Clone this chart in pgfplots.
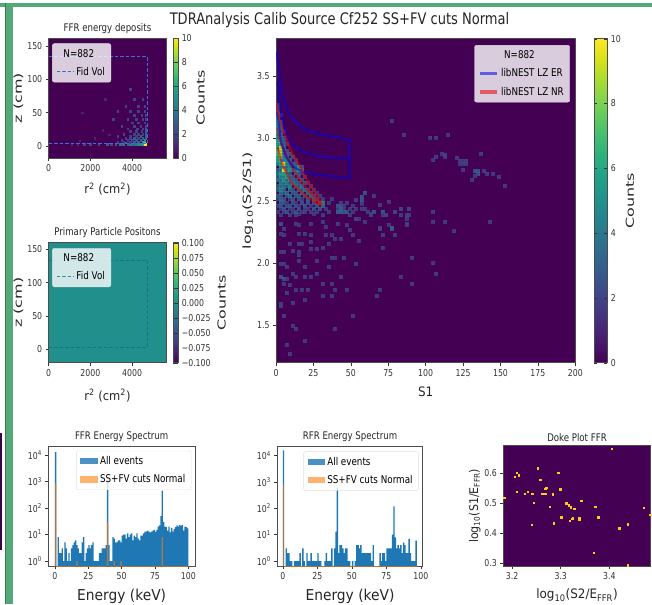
\documentclass[border=0pt]{standalone}
\usepackage{pgfplots}
\usepackage{pgfplotstable}
\usepackage{fontspec}
\pgfplotsset{compat=1.18}
\setmainfont{DejaVu Sans}[FakeStretch=0.82]
\newfontfamily\wideF{DejaVu Sans}[FakeStretch=0.92]
\newfontfamily\rotF{DejaVu Sans}[FakeStretch=1.45]
\newcommand\tickf{\fontsize{9.5}{11}\selectfont}
\newcommand\titf{\fontsize{10.5}{12}\selectfont}
\newcommand\labf{\wideF\fontsize{12}{14}\selectfont}
\newcommand\rotf{\rotF\fontsize{11}{13}\selectfont}
\newcommand\legf{\fontsize{10.7}{12.5}\selectfont}
\definecolor{vir0}{HTML}{440154}
\definecolor{vir5}{HTML}{21908C}
\definecolor{grn}{RGB}{84,168,122}
\definecolor{hblue}{HTML}{1F77B4}
\definecolor{horange}{HTML}{FF7F0E}

\pgfplotstableread{
x y c
77 3.139 2
85 3.032 2
103 3.005 2
107 3.005 2
115 3.032 2
137 2.877 2
107 2.853 2
105 2.826 2
111 2.880 2
113 2.871 2
113 2.853 2
121 2.847 2
123 2.821 2
125 2.821 2
127 2.821 2
123 2.799 2
125 2.799 2
127 2.799 2
125 2.751 2
133 2.738 3
135 2.738 3
135 2.716 3
139 2.738 2
141 2.719 2
133 2.703 2
131 2.671 2
145 2.719 2
149 2.692 2
153 2.620 2
59 2.567 3
57 2.532 3
57 2.505 3
53 2.505 2
57 2.478 2
65 2.537 2
75 2.491 2
57 2.438 2
59 2.438 2
61 2.411 2
65 2.411 3
63 2.385 2
71 2.411 3
71 2.385 2
73 2.385 2
79 2.411 2
83 2.433 2
83 2.385 2
89 2.433 2
89 2.385 2
87 2.358 2
87 2.310 2
105 2.411 2
105 2.331 2
113 2.331 2
143 2.331 2
59 2.331 2
53 2.358 2
55 2.358 2
69 2.465 2
69 2.286 2
75 2.310 2
77 2.286 3
119 2.256 2
105 2.000 2
107 1.917 2
91 2.045 2
83 1.890 2
91 1.836 2
3 2.385 2
9 2.385 2
13 2.385 2
15 2.398 2
19 2.425 2
25 2.398 2
31 2.385 2
41 2.425 2
43 2.425 2
45 2.438 2
49 2.385 2
53 2.358 2
63 2.398 2
73 2.385 2
79 2.411 2
83 2.438 2
87 2.385 2
89 2.438 2
87 2.318 2
3 2.312 3
5 2.278 2
13 2.318 2
15 2.304 2
23 2.318 2
31 2.331 2
33 2.291 2
41 2.318 2
47 2.304 2
49 2.264 2
69 2.278 2
77 2.278 3
71 2.224 2
79 2.229 2
3 2.238 2
5 2.224 2
15 2.238 2
19 2.238 2
23 2.224 2
33 2.224 2
37 2.224 2
39 2.197 2
43 2.197 2
51 2.224 2
55 2.179 2
9 2.157 2
15 2.157 2
17 2.157 2
23 2.171 2
35 2.157 2
3 2.090 2
5 2.090 2
11 2.098 2
15 2.090 2
15 2.064 2
23 2.117 2
27 2.117 2
31 2.125 2
37 2.045 2
39 2.045 2
45 2.045 2
71 2.125 2
3 1.997 2
5 1.997 2
7 1.970 2
15 2.018 2
19 1.970 2
27 2.018 2
35 1.970 2
53 1.997 2
3 1.890 3
5 1.876 3
7 1.876 2
11 1.917 2
13 1.890 2
19 1.890 2
23 1.890 2
27 1.917 2
31 1.836 2
37 1.836 2
43 1.890 2
9 1.823 2
5 1.836 2
13 1.783 2
17 1.788 2
21 1.788 2
39 1.788 2
47 1.788 2
69 1.788 2
7 1.761 2
31 1.735 2
37 1.735 2
67 1.735 2
3 1.676 2
3 1.654 2
11 1.681 2
19 1.708 2
5 1.577 2
51 1.577 2
11 1.497 2
13 1.475 2
39 1.475 2
7 1.347 2
19 1.373 2
9 1.269 2
1 2.409 2
5 2.409 2
7 2.409 3
11 2.409 2
13 2.409 3
17 2.409 2
19 2.409 2
23 2.409 2
27 2.409 2
35 2.409 2
41 2.409 3
43 2.409 3
45 2.409 3
47 2.409 3
51 2.409 2
3 2.435 2
5 2.435 3
9 2.435 2
11 2.435 2
15 2.435 3
21 2.435 2
25 2.435 3
29 2.435 3
33 2.435 2
43 2.435 3
49 2.435 2
53 2.435 2
1 2.461 2
3 2.461 3
7 2.461 3
9 2.461 3
13 2.461 3
15 2.461 2
19 2.461 3
23 2.461 2
27 2.461 3
31 2.461 4
41 2.461 3
43 2.461 3
45 2.461 2
51 2.461 2
3 2.487 3
5 2.487 3
7 2.487 2
11 2.487 3
13 2.487 2
17 2.487 3
21 2.487 3
25 2.487 3
29 2.487 4
31 2.487 5
35 2.487 2
43 2.487 2
47 2.487 2
1 2.513 2
3 2.513 4
5 2.513 3
9 2.513 2
11 2.513 3
15 2.513 3
17 2.513 2
21 2.513 3
25 2.513 4
27 2.513 3
31 2.513 2
37 2.513 2
1 2.539 3
3 2.539 3
7 2.539 3
9 2.539 4
13 2.539 3
15 2.539 3
19 2.539 3
23 2.539 4
25 2.539 3
29 2.539 2
3 2.565 4
5 2.565 3
7 2.565 4
11 2.565 3
13 2.565 3
17 2.565 4
21 2.565 4
23 2.565 3
27 2.565 2
1 2.591 3
3 2.591 5
5 2.591 4
9 2.591 4
11 2.591 3
15 2.591 4
17 2.591 3
19 2.591 4
21 2.591 3
25 2.591 2
1 2.617 3
3 2.617 4
5 2.617 4
7 2.617 3
9 2.617 5
13 2.617 4
15 2.617 3
17 2.617 4
23 2.617 2
3 2.643 5
5 2.643 4
7 2.643 5
9 2.643 3
11 2.643 5
13 2.643 4
15 2.643 3
19 2.643 3
21 2.643 2
1 2.669 4
3 2.669 4
5 2.669 6
7 2.669 4
9 2.669 5
11 2.669 4
13 2.669 3
17 2.669 3
1 2.695 3
3 2.695 5
5 2.695 5
7 2.695 6
9 2.695 4
11 2.695 3
15 2.695 3
19 2.695 2
1 2.721 4
3 2.721 6
5 2.721 6
7 2.721 5
9 2.721 3
13 2.721 4
15 2.721 3
17 2.721 2
1 2.747 3
3 2.747 4
5 2.747 10
7 2.747 5
9 2.747 6
11 2.747 4
13 2.747 5
15 2.747 6
17 2.747 5
3 2.773 5
5 2.773 6
7 2.773 4
9 2.773 5
13 2.773 4
15 2.773 6
17 2.773 3
1 2.799 5
3 2.799 6
5 2.799 10
7 2.799 5
9 2.799 4
11 2.799 3
13 2.799 3
1 2.825 6
3 2.825 6
5 2.825 5
7 2.825 5
9 2.825 4
13 2.825 2
1 2.851 6
3 2.851 8
5 2.851 5
7 2.851 4
11 2.851 3
1 2.877 7
3 2.877 9
5 2.877 4
7 2.877 4
9 2.877 3
1 2.903 7
3 2.903 9
5 2.903 4
7 2.903 3
1 2.929 6
3 2.929 9
5 2.929 4
1 2.955 6
3 2.955 6
5 2.955 4
7 2.955 2
1 2.981 6
3 2.981 7
5 2.981 3
1 3.007 5
3 3.007 5
5 3.007 3
1 3.033 5
3 3.033 4
1 3.059 6
3 3.059 3
5 3.059 2
1 3.085 5
3 3.085 4
1 3.111 5
3 3.111 3
1 3.137 5
3 3.137 3
1 3.163 4
1 3.189 3
3 3.189 2
1 3.215 3
1 3.241 2
1 3.267 2
}\mainhist

\pgfplotstableread{
x y c
2000 3 2
2400 3 2
2800 3 3
3000 3 2
3200 3 3
3400 3 4
3500 3 3
3600 3 4
3700 5 4
3800 3 3
3900 3 4
4000 3 4
4100 3 3
4200 3 4
4300 3 5
4400 3 5
4500 3 6
4600 3 10
4650 3 10
3300 6 2
3600 6 2
3900 6 2
4100 6 3
4300 6 3
4500 6 6
4600 6 8
3500 9 2
3800 9 2
4000 9 2
4200 9 3
4400 9 3
4600 9 5
3700 12 2
3900 12 2
4100 12 3
4300 12 2
4500 12 3
4650 12 4
3300 15 2
3900 15 2
4200 15 2
4400 15 3
4650 15 3
3600 18 2
4100 18 2
4300 18 2
4500 18 2
4650 18 3
3900 22 2
4200 22 2
4450 22 2
4650 22 3
3800 26 2
4250 26 2
4500 26 2
4650 26 3
3500 30 2
4100 30 2
4400 30 2
4650 30 2
4000 35 2
4300 35 2
4600 35 2
3800 40 2
4200 40 2
4500 40 2
4650 40 2
4100 46 2
4450 46 2
4650 46 2
3300 52 2
3900 52 2
4300 52 2
4600 52 2
3700 60 2
4300 60 2
4600 60 2
4100 70 2
4500 70 2
3900 85 2
2700 70 1
1600 50 1
3100 40 2
2600 24 1
1500 8 1
2200 12 1
1100 3 1
1400 3 1
1700 3 2
2900 17 1
}\ffrhist

\pgfplotstableread{
x y
3.405 0.681
3.253 0.617
3.295 0.603
3.210 0.602
3.214 0.594
3.206 0.588
3.258 0.578
3.270 0.552
3.268 0.548
3.299 0.547
3.210 0.539
3.232 0.538
3.226 0.531
3.240 0.531
3.242 0.531
3.262 0.531
3.268 0.533
3.284 0.530
3.184 0.519
3.342 0.508
3.244 0.502
3.311 0.500
3.316 0.494
3.321 0.487
3.328 0.483
3.277 0.489
3.371 0.489
3.471 0.486
3.301 0.454
3.377 0.454
3.286 0.434
3.323 0.448
3.319 0.443
3.325 0.450
3.338 0.450
3.338 0.446
3.240 0.428
3.420 0.417
3.437 0.430
3.368 0.336
3.437 0.294
3.484 0.463
}\dokepts

\pgfplotstableread{
x y
0 13000
1 0.1
2 8
3 2
4 2
5 3
6 1
7 5
8 3
9 1
10 2
11 1
12 3
13 4
14 5
15 6
16 4
17 3
18 2
19 2
20 5
21 8
22 1
23 2
24 3
25 4
26 3
27 4
28 5
29 1
30 1
31 1
32 1
33 2
34 2
35 3
36 3
37 3
38 4
39 1200
40 4
41 1
42 1
43 8
44 7
45 5
46 5
47 6
48 6
49 5
50 9
51 10
52 10
53 7
54 11
55 8
56 10
57 11
58 6
59 9
60 8
61 11
62 7
63 6
64 9
65 9
66 11
67 13
68 13
69 14
70 13
71 12
72 13
73 14
74 15
75 13
76 15
77 20
78 22
79 50
80 450
81 30
82 20
83 19
84 14
85 20
86 12
87 18
88 13
89 16
90 19
91 22
92 20
93 23
94 21
95 23
96 14
97 20
98 19
99 17
100 17
}\ffrspec

\pgfplotstableread{
x y
0 850
1 0.1
15 0.1
16 1
17 0.1
39 30
40 0.1
44 1
45 0.1
49 1
50 0.1
80 8
81 0.1
100 0.1
}\ffrcut

\pgfplotstableread{
x y
0 16000
1 0.1
2 3
3 2
4 2
5 1
6 1
7 0.1
8 1
9 1
10 1
11 1
12 2
13 0.1
14 3
15 1
16 0.1
17 2
18 1
19 1
20 2
21 1
22 1
23 1
24 1
25 2
26 1
27 1
28 0.1
29 0.1
30 1
31 2
32 1
33 1
34 1
35 3
36 0.1
37 3
38 13
39 600
40 2
41 4
42 4
43 3
44 2
45 3
46 3
47 1
48 1
49 0.1
50 1
51 0.1
52 1
53 4
54 4
55 3
56 4
57 2
58 2
59 2
60 2
61 2
62 2
63 2
64 1
65 4
66 0.1
67 0.1
68 0.1
69 0.1
70 2
71 1
72 2
73 2
74 1
75 3
76 3
77 3
78 3
79 10
80 120
81 8
82 3
83 4
84 3
85 4
86 2
87 5
88 4
89 2
90 2
91 7
92 2
93 1
94 1
95 1
96 6
97 6
}\rfrspec

\pgfplotstableread{
x y
0 850
1 0.1
97 0.1
}\rfrcut

\pgfplotsset{
  base/.style={
    scale only axis, anchor=south west,
    tick align=outside, tick pos=left, major tick length=3pt,
    tick style={color=black!80,line width=.5pt},
    axis line style={color=black!70,line width=.6pt},
    ticklabel style={font=\tickf,text=black!80},
    label style={font=\labf,text=black!85},
    ylabel style={font=\rotf,text=black!85,yshift=-3pt},
    title style={font=\titf,text=black!85,yshift=-5pt},
    /pgf/number format/assume math mode=true,
    /pgf/number format/1000 sep={},
    colormap/viridis,
    clip mode=individual,
    log origin y=infty,
  },
  cb/.style={
    colorbar,
    colorbar style={
      at={(#1,0.5)},anchor=west,width=5pt,
      yticklabel style={font=\tickf,text=black!80},
      ylabel=Counts,
      ylabel style={font=\rotf,text=black!85},
      major tick length=3pt,
      tick style={color=black!80},
      axis line style={color=black!70,line width=.4pt},
      /pgf/number format/assume math mode=true,
    },
  },
  leg/.style={
    legend style={font=\legf,fill=white,fill opacity=.8,text opacity=1,
      draw=black!12,rounded corners=2pt,
      /tikz/every even column/.style={column sep=4pt},
      row sep=4.5pt,inner xsep=4pt,inner ysep=3.5pt},
    legend cell align=left,
  },
  histleg/.style={legend image code/.code={\fill[##1,sharp corners] (0cm,-0.11cm) rectangle (0.62cm,0.11cm);}},
  hcells/.style={scatter,only marks,mark=square*,point meta=\thisrow{c},forget plot,
    scatter/use mapped color={draw=mapped color,fill=mapped color}},
}

\begin{document}
\begin{tikzpicture}[x=1pt,y=1pt]
\path[use as bounding box] (0,0) rectangle (652,604);
\fill[grn] (0,597) rectangle (652,601);
\fill[grn] (4.5,0) rectangle (12.5,601);
\fill[grn!70!black] (4.5,0) rectangle (5.2,601);
\fill[vir0!85!black] (0,54) rectangle (2,171);
\node[font=\fontsize{15.9}{18}\selectfont,text=black!85] at (339.5,584) {TDRAnalysis Calib Source Cf252 SS+FV cuts Normal};

% FFR energy deposits
\begin{axis}[base,cb=1.06,at={(48.7pt,446pt)},width=117.5pt,height=120pt,
  xmin=0,xmax=5635,ymin=-18,ymax=162,
  axis background/.style={fill=vir0},
  point meta min=0,point meta max=10,
  xtick={0,2000,4000},ytick={0,50,100,150},
  xlabel={r\textsuperscript{2} (cm\textsuperscript{2})},ylabel={z (cm)},
  xlabel style={yshift=-4pt,font=\wideF\fontsize{12.5}{14}\selectfont},
  title={FFR energy deposits},
  colorbar style={ytick={0,2,4,6,8,10},ylabel style={yshift=2pt}},
  leg,legend style={at={(0.03,0.955)},anchor=north west}]
\addplot[hcells,mark size=.72pt] table[x=x,y=y] {\ffrhist};
\addlegendimage{empty legend}\addlegendentry{\hspace*{-13pt}N=882}
\addplot[color=hblue!60!blue!80!white,line width=1pt,dash pattern=on 3.5pt off 2pt] coordinates {(0,134)(4715,134)(4715,3)(0,3)};
\addlegendentry{Fid Vol}
\end{axis}

% Primary particle positions
\begin{axis}[base,cb=1.06,at={(48.7pt,241.3pt)},width=117.5pt,height=120pt,
  xmin=0,xmax=5635,ymin=-20,ymax=160,
  axis background/.style={fill=vir5},
  point meta min=-0.1,point meta max=0.1,
  xtick={0,2000,4000},ytick={0,50,100,150},
  xlabel={r\textsuperscript{2} (cm\textsuperscript{2})},ylabel={z (cm)},
  xlabel style={yshift=-6pt,font=\wideF\fontsize{12.5}{14}\selectfont},
  title={Primary Particle Positons},
  colorbar style={ytick={-0.1,-0.075,-0.05,-0.025,0,0.025,0.05,0.075,0.1},
    yticklabels={−0.100,−0.075,−0.050,−0.025,0.000,0.025,0.050,0.075,0.100}},
  leg,legend style={at={(0.03,0.955)},anchor=north west}]
\addlegendimage{empty legend}\addlegendentry{\hspace*{-13pt}N=882}
\addplot[color=hblue!85!black,opacity=.75,line width=1pt,dash pattern=on 3.5pt off 2pt] coordinates {(0,134)(4715,134)(4715,3)(0,3)};
\addlegendentry{Fid Vol}
\end{axis}

% Main band plot
\begin{axis}[base,cb=1.0635,at={(276pt,241.3pt)},width=299.3pt,height=324pt,
  xmin=0,xmax=200,ymin=1.2,ymax=3.8,
  axis background/.style={fill=vir0},
  point meta min=0,point meta max=10,
  xtick={0,25,50,75,100,125,150,175,200},ytick={1.5,2.0,2.5,3.0,3.5},
  yticklabel style={/pgf/number format/fixed,/pgf/number format/fixed zerofill,/pgf/number format/precision=1},
  xlabel={S1},ylabel={log\textsubscript{10}(S2/S1)},
  xlabel style={yshift=-4pt,font=\wideF\fontsize{13}{15}\selectfont},
  colorbar style={ytick={0,2,4,6,8,10},width=13pt,ylabel style={yshift=2pt}},
  leg,legend style={at={(0.982,0.980)},anchor=north east}]
\addplot[hcells,mark size=1.5pt,mark options={opacity=.8}] table[x=x,y=y] {\mainhist};
\addlegendimage{empty legend}\addlegendentry{\hspace*{3pt}N=882}
\addplot[blue!90!black,opacity=.55,line width=2.2pt,legend image post style={line width=3.5pt}] coordinates {(0.9,3.454)(2.7,3.241)(5.6,3.08)(8.9,2.973)(15.6,2.906)(24.5,2.866)(35.7,2.845)(49.1,2.84)};
\addlegendentry{libNEST LZ ER}
\addplot[red!90!black,opacity=.55,line width=2.2pt,legend image post style={line width=3.5pt}] coordinates {(0.9,3.08)(2,3.01)(3.5,2.96)(8,2.84)(11.4,2.76)(15,2.68)(21.7,2.585)(26,2.52)(29.5,2.47)};
\addlegendentry{libNEST LZ NR}
\addplot[forget plot,blue!90!black,opacity=.55,line width=2.2pt] coordinates {(0.4,3.695)(1.8,3.561)(4.5,3.334)(8.9,3.187)(17.8,3.08)(29,3.034)(40.2,3.013)(49.1,2.986)(49.1,2.68)(40.2,2.693)(29,2.706)(17.8,2.733)(11.2,2.773)(6.7,2.853)(3.3,2.973)(0.9,3.214)};
\addplot[forget plot,red!90!black,opacity=.55,line width=2.2pt] coordinates {(0.5,3.28)(0.9,3.24)(2.5,3.14)(4.7,3.066)(7.5,2.98)(10.3,2.89)(15.8,2.785)(19,2.70)(24,2.60)(28.3,2.53)(30.5,2.47)(29,2.47)(25,2.50)(18.3,2.555)(12,2.62)(8,2.70)(4.7,2.78)(2.5,2.86)(1.2,2.93)};
\end{axis}

% FFR spectrum
\begin{axis}[base,at={(48.3pt,38pt)},width=146.7pt,height=120pt,ymode=log,
  xmin=-5,xmax=105,ymin=0.648,ymax=22000,
  xtick={0,25,50,75,100},ytick={1,10,100,1000,10000},
  yticklabels={10\textsuperscript{0},10\textsuperscript{1},10\textsuperscript{2},10\textsuperscript{3},10\textsuperscript{4}},
  yminorticks=false,
  xlabel={Energy (keV)},title={FFR Energy Spectrum},
  xlabel style={yshift=-3pt,font=\wideF\fontsize{15}{17}\selectfont},
  leg,legend style={at={(0.19,0.96)},anchor=north west}]
\addplot[const plot,fill=hblue,draw=none,histleg] table[x=x,y=y] {\ffrspec} \closedcycle;
\addlegendentry{All events}
\addplot[const plot,fill=horange,fill opacity=.6,draw=none,histleg] table[x=x,y=y] {\ffrcut} \closedcycle;
\addlegendentry{SS+FV cuts Normal}
\end{axis}

% RFR spectrum
\begin{axis}[base,at={(277.3pt,38pt)},width=145.4pt,height=119.3pt,ymode=log,
  xmin=-4,xmax=101.3,ymin=0.648,ymax=22000,
  xtick={0,25,50,75,100},ytick={1,10,100,1000,10000},
  yticklabels={10\textsuperscript{0},10\textsuperscript{1},10\textsuperscript{2},10\textsuperscript{3},10\textsuperscript{4}},
  yminorticks=false,
  xlabel={Energy (keV)},title={RFR Energy Spectrum},
  xlabel style={yshift=-3pt,font=\wideF\fontsize{15}{17}\selectfont},
  leg,legend style={at={(0.18,0.96)},anchor=north west}]
\addplot[const plot,fill=hblue,draw=none,histleg] table[x=x,y=y] {\rfrspec} \closedcycle;
\addlegendentry{All events}
\addplot[const plot,fill=horange,fill opacity=.6,draw=none,histleg] table[x=x,y=y] {\rfrcut} \closedcycle;
\addlegendentry{SS+FV cuts Normal}
\end{axis}

% Doke plot
\begin{axis}[base,at={(503.3pt,38pt)},width=147.4pt,height=120.3pt,
  xmin=3.182,xmax=3.485,ymin=0.291,ymax=0.692,
  axis background/.style={fill=vir0},
  xtick={3.2,3.3,3.4},ytick={0.3,0.4,0.5,0.6},
  xticklabel style={/pgf/number format/fixed,/pgf/number format/fixed zerofill,/pgf/number format/precision=1},
  yticklabel style={/pgf/number format/fixed,/pgf/number format/fixed zerofill,/pgf/number format/precision=1},
  xlabel={log\textsubscript{10}(S2/E\textsubscript{FFR})},ylabel={log\textsubscript{10}(S1/E\textsubscript{FFR})},
  xlabel style={yshift=-2.5pt,font=\wideF\fontsize{13}{15}\selectfont},
  ylabel style={font=\wideF\fontsize{12}{14}\selectfont},
  title={Doke Plot FFR}]
\addplot[only marks,mark=square*,mark size=.65pt,color=yellow!60!orange!90!white] table[x=x,y=y] {\dokepts};
\end{axis}
\end{tikzpicture}
\end{document}
